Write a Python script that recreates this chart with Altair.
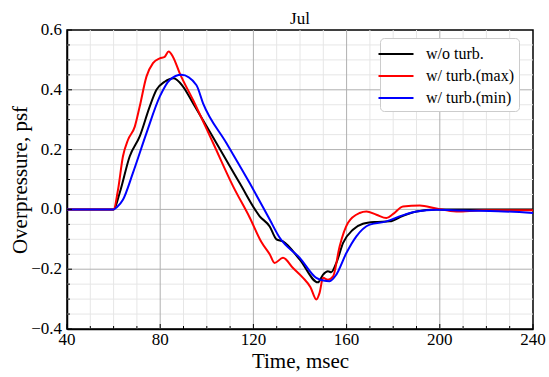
import altair as alt
import pandas as pd

series_names = ["w/o turb.", "w/ turb.(max)", "w/ turb.(min)"]
series_colors = ["#000000", "#ff0000", "#0000ff"]

t_black = [40, 60, 62.6, 66.9, 71.2, 75.5, 78.4, 81.9, 85.8, 89.8, 94.1, 104.1, 114.1, 122.7, 127,
           129.9, 132.7, 139.9, 147.7, 149.9, 152, 153.4, 155.6, 158.5, 162.7, 167, 172, 178.5,
           184, 190, 198.5, 210, 240]
v_black = [0, 0, 0.055, 0.177, 0.244, 0.344, 0.40, 0.427, 0.439, 0.411, 0.355, 0.222, 0.088, -0.023,
           -0.057, -0.10, -0.107, -0.168, -0.244, -0.218, -0.207, -0.21, -0.179, -0.112, -0.068,
           -0.048, -0.042, -0.040, -0.022, -0.007, 0, 0, 0]

t_red = [40, 60, 61.9, 64, 66.2, 69.1, 71.2, 74.1, 76.9, 79.8, 81.9, 83.6, 85.5, 88.4, 94.1, 102.7,
         111.3, 118.4, 123.5, 127, 129.1, 132.7, 137, 141.3, 144.5, 147, 148.4, 149.9, 152, 154.2,
         157, 160.6, 165.6, 168.5, 172.8, 177.1, 180, 184.2, 191.4, 198.5, 207.1, 218.6, 240]
v_red = [0, 0, 0.066, 0.177, 0.233, 0.277, 0.344, 0.444, 0.489, 0.505, 0.51, 0.528, 0.51, 0.455,
         0.366, 0.222, 0.077, -0.027, -0.11, -0.15, -0.179, -0.162, -0.196, -0.229, -0.26, -0.301,
         -0.279, -0.229, -0.235, -0.224, -0.124, -0.045, -0.012, -0.007, -0.018, -0.029, -0.015,
         0.010, 0.013, 0.003, -0.007, -0.003, -0.003]

t_blue = [40, 60, 61.5, 64, 68.3, 74.1, 79.8, 84.1, 89.1, 95.5, 98.4, 108.4, 118.4, 127, 131.3,
          139.9, 147, 150, 152.7, 155.6, 159.9, 164.2, 169.9, 177.1, 184, 190, 198.5, 210, 225, 240]
v_blue = [0, 0, 0.008, 0.032, 0.122, 0.255, 0.377, 0.433, 0.45, 0.416, 0.355, 0.222, 0.088, -0.034,
          -0.095, -0.162, -0.229, -0.238, -0.240, -0.218, -0.146, -0.09, -0.051, -0.04, -0.02,
          -0.007, -0.001, -0.004, -0.006, -0.012]

x_ticks = list(range(40, 241, 10))
x_major = list(range(40, 241, 40))
x_minor = [v for v in x_ticks if v not in x_major]
y_ticks = [round(-0.4 + 0.05 * i, 2) for i in range(21)]
y_major = [-0.4, -0.2, 0.0, 0.2, 0.4, 0.6]
y_minor = [v for v in y_ticks if all(abs(v - m) > 1e-9 for m in y_major)]

rows = []
for name, ts, vs in [(series_names[0], t_black, v_black),
                     (series_names[1], t_red, v_red),
                     (series_names[2], t_blue, v_blue)]:
    for i, (t, v) in enumerate(zip(ts, vs)):
        rows.append({"series": name, "t": t, "v": v, "k": i})
df = pd.DataFrame(rows)

FONT = "Liberation Serif"
W, H = 466, 299

xscale = alt.Scale(domain=[40, 240], nice=False, zero=False)
yscale = alt.Scale(domain=[-0.4, 0.6], nice=False, zero=False)

x_axis = alt.Axis(values=x_major, grid=False, ticks=False, labels=False, title="Time, msec",
                  titlePadding=21)
y_axis = alt.Axis(values=y_major, grid=False, ticks=False, labels=False,
                  title="Overpressure, psf", titlePadding=37)

X = lambda: alt.X("t:Q", scale=xscale, axis=x_axis)
Y = lambda: alt.Y("v:Q", scale=yscale, axis=y_axis)

xt_major = pd.DataFrame({"t": x_major})
xt_minor = pd.DataFrame({"t": x_minor})
yt_major = pd.DataFrame({"v": y_major})
yt_minor = pd.DataFrame({"v": y_minor})

# grid (inner lines only)
grid_x_minor = alt.Chart(xt_minor).mark_rule(color="#e6e6e6", strokeWidth=1).encode(
    x=X(), y=alt.value(0), y2=alt.value(H))
grid_x_major = alt.Chart(xt_major[(xt_major.t > 40) & (xt_major.t < 240)]).mark_rule(
    color="#b0b0b0", strokeWidth=1).encode(x=X(), y=alt.value(0), y2=alt.value(H))
grid_y_minor = alt.Chart(yt_minor).mark_rule(color="#e6e6e6", strokeWidth=1).encode(
    y=Y(), x=alt.value(0), x2=alt.value(W))
grid_y_major = alt.Chart(yt_major[(yt_major.v > -0.39) & (yt_major.v < 0.59)]).mark_rule(
    color="#b0b0b0", strokeWidth=1).encode(y=Y(), x=alt.value(0), x2=alt.value(W))

# inward ticks
tick_x_major = alt.Chart(xt_major).mark_rule(color="black", strokeWidth=1).encode(
    x=X(), y=alt.value(H), y2=alt.value(H - 5))
tick_x_minor = alt.Chart(xt_minor).mark_rule(color="black", strokeWidth=1).encode(
    x=X(), y=alt.value(H), y2=alt.value(H - 3))
tick_y_major = alt.Chart(yt_major).mark_rule(color="black", strokeWidth=1).encode(
    y=Y(), x=alt.value(0), x2=alt.value(5))
tick_y_minor = alt.Chart(yt_minor).mark_rule(color="black", strokeWidth=1).encode(
    y=Y(), x=alt.value(0), x2=alt.value(3))

# tick labels
lab_x = alt.Chart(xt_major).mark_text(font=FONT, fontSize=17, color="black",
                                      baseline="top", align="center").encode(
    x=X(), y=alt.value(H + 3), text=alt.Text("t:Q", format="d"))
lab_y = alt.Chart(yt_major).mark_text(font=FONT, fontSize=17, color="black",
                                      baseline="middle", align="right").encode(
    y=Y(), x=alt.value(-5), text=alt.Text("v:Q", format=".1f"))

lines = alt.Chart(df).mark_line(strokeWidth=2, interpolate="monotone").encode(
    x=X(), y=Y(),
    color=alt.Color("series:N",
                    scale=alt.Scale(domain=series_names, range=series_colors),
                    sort=series_names,
                    legend=alt.Legend(title=None, orient="none", legendX=313, legendY=8,
                                      symbolType="M-1.75,0H1.75", symbolStrokeWidth=2, symbolSize=400,
                                      labelFont=FONT, labelFontSize=16, labelColor="black",
                                      labelOffset=19, rowPadding=3, padding=5,
                                      cornerRadius=4, strokeColor="#cccccc",
                                      fillColor="white")),
    order="k:Q",
)

chart = alt.layer(grid_x_minor, grid_y_minor, grid_x_major, grid_y_major, lines,
                  tick_x_major, tick_x_minor, tick_y_major, tick_y_minor,
                  lab_x, lab_y).properties(
    width=W, height=H, background="white",
    title=alt.TitleParams("Jul", font=FONT, fontSize=17, fontWeight="normal", color="black",
                          offset=6, anchor="middle", dy=13),
    padding={"left": 67, "top": 30, "right": 16, "bottom": 48},
    autosize=alt.AutoSizeParams(type="none"),
).configure_view(stroke="black", strokeWidth=1.5).configure_axis(
    titleFont=FONT, titleFontSize=21, titleFontWeight="normal", titleColor="black",
    domainColor="black", domainWidth=1.5,
).configure_title(font=FONT, fontSize=17, fontWeight="normal", color="black")

chart.save("out.html", embed_options={"renderer": "svg", "actions": False})
